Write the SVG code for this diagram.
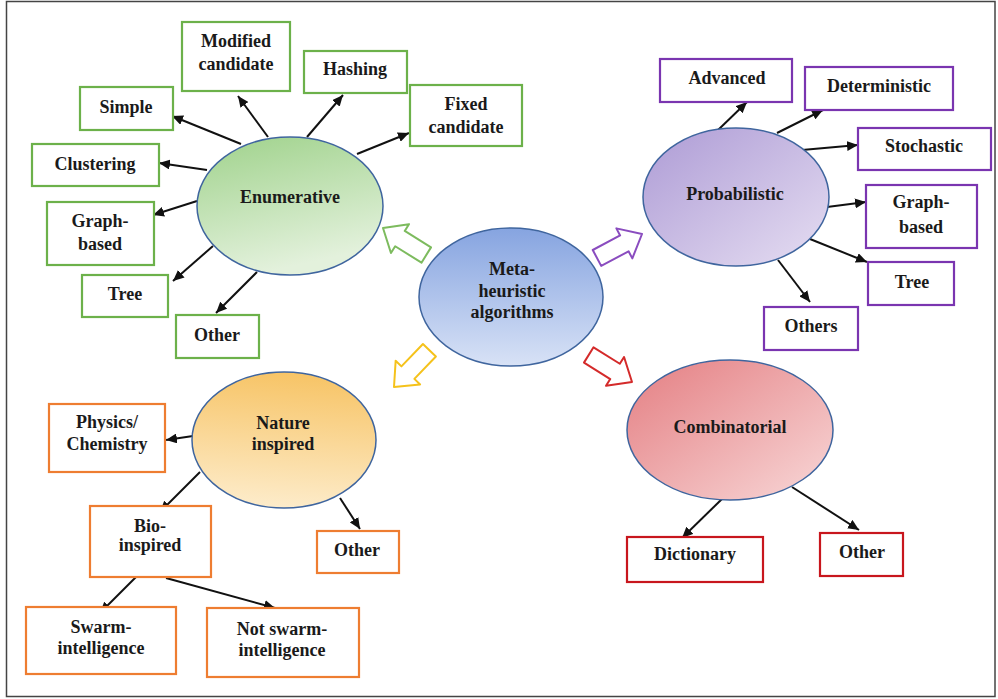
<svg xmlns="http://www.w3.org/2000/svg" width="998" height="699" viewBox="0 0 998 699">
  <style>
    text { font-family: "Liberation Serif", "Times New Roman", serif; font-weight: bold; font-size: 18px; fill: #1a1a1a; text-anchor: middle; }
    .hub { stroke: #3f659e; stroke-width: 1.5; }
    .box { fill: #fff; stroke-width: 2.2; }
    .g { stroke: #6cb14a; }
    .p { stroke: #7a35b0; }
    .o { stroke: #ee7d31; }
    .r { stroke: #c8161d; }
    .link { stroke: #111; stroke-width: 2; fill: none; marker-end: url(#tip); }
    .big { fill: #fff; stroke-width: 2; stroke-linejoin: round; }
  </style>
  <defs>
    <marker id="tip" markerUnits="userSpaceOnUse" markerWidth="12" markerHeight="10" refX="11" refY="5" orient="auto">
      <path d="M0,0 L11,5 L0,10 Z" fill="#111"/>
    </marker>
    <linearGradient id="gGreen" x1="0" y1="0" x2="0.3" y2="1">
      <stop offset="0" stop-color="#9fd28b"/>
      <stop offset="1" stop-color="#e3f1dc"/>
    </linearGradient>
    <linearGradient id="gBlue" x1="0" y1="0" x2="0" y2="1">
      <stop offset="0" stop-color="#86a4e0"/>
      <stop offset="1" stop-color="#d8e2f6"/>
    </linearGradient>
    <linearGradient id="gPurple" x1="0" y1="0" x2="1" y2="1">
      <stop offset="0" stop-color="#ad9bd5"/>
      <stop offset="1" stop-color="#e6def2"/>
    </linearGradient>
    <linearGradient id="gYellow" x1="0.5" y1="0" x2="0.4" y2="1">
      <stop offset="0" stop-color="#f7c466"/>
      <stop offset="1" stop-color="#fdeccb"/>
    </linearGradient>
    <linearGradient id="gRed" x1="0" y1="0" x2="1" y2="1">
      <stop offset="0" stop-color="#e47e82"/>
      <stop offset="1" stop-color="#f8d8d8"/>
    </linearGradient>
    <!-- hollow block arrow, tip at origin pointing along +x -->
    <path id="blockArrow" d="M0,0 L-20,-17 L-20,-9 L-51,-9 L-51,9 L-20,9 L-20,17 Z"/>
  </defs>

  <rect x="6.5" y="1.5" width="988.5" height="695" fill="#fff" stroke="#444" stroke-width="1.5"/>

  <!-- connectors -->
  <g id="connectors">
    <!-- Enumerative -->
    <line class="link" x1="241" y1="144" x2="172" y2="116"/>
    <line class="link" x1="268" y1="137" x2="238" y2="96"/>
    <line class="link" x1="307" y1="137" x2="343" y2="95"/>
    <line class="link" x1="357" y1="154" x2="409" y2="133"/>
    <line class="link" x1="207" y1="170" x2="159" y2="163"/>
    <line class="link" x1="197" y1="201" x2="153" y2="215"/>
    <line class="link" x1="213" y1="246" x2="173" y2="281"/>
    <line class="link" x1="257" y1="272" x2="216" y2="313"/>
    <!-- Probabilistic -->
    <line class="link" x1="717" y1="131" x2="747" y2="102"/>
    <line class="link" x1="777" y1="133" x2="823" y2="110"/>
    <line class="link" x1="802" y1="150" x2="858" y2="145"/>
    <line class="link" x1="827" y1="207" x2="866" y2="202"/>
    <line class="link" x1="810" y1="239" x2="867" y2="262"/>
    <line class="link" x1="778" y1="260" x2="810" y2="302"/>
    <!-- Nature inspired -->
    <line class="link" x1="193" y1="436" x2="166" y2="440"/>
    <line class="link" x1="200" y1="472" x2="160" y2="512"/>
    <line class="link" x1="340" y1="498" x2="360" y2="529"/>
    <line class="link" x1="138" y1="575" x2="100" y2="613"/>
    <line class="link" x1="166" y1="578" x2="275" y2="608"/>
    <!-- Combinatorial -->
    <line class="link" x1="723" y1="498" x2="682" y2="538"/>
    <line class="link" x1="792" y1="487" x2="859" y2="530"/>
    <!-- hollow arrows from the central node -->
    <use href="#blockArrow" class="big" stroke="#7dbb5e" transform="translate(383,228) rotate(212)"/>
    <use href="#blockArrow" class="big" stroke="#8a4cbf" transform="translate(642,234) rotate(-28)"/>
    <use href="#blockArrow" class="big" stroke="#f5c21b" transform="translate(394,387) rotate(134)"/>
    <use href="#blockArrow" class="big" stroke="#d42a2a" transform="translate(632,382) rotate(32)"/>
  </g>

  <!-- central node -->
  <g id="meta">
    <ellipse class="hub" cx="511" cy="297" rx="92" ry="69" fill="url(#gBlue)"/>
    <text x="512" y="275">Meta-</text>
    <text x="512" y="297">heuristic</text>
    <text x="512" y="318">algorithms</text>
  </g>

  <!-- Enumerative branch -->
  <g id="enumerative">
    <ellipse class="hub" cx="290" cy="206" rx="93" ry="69" fill="url(#gGreen)"/>
    <text x="290" y="203">Enumerative</text>
  </g>
  <g id="enum-modified"><rect class="box g" x="182" y="22" width="108" height="69"/><text x="236" y="47">Modified</text><text x="236" y="70">candidate</text></g>
  <g id="enum-hashing"><rect class="box g" x="304" y="51" width="103" height="42"/><text x="355" y="75">Hashing</text></g>
  <g id="enum-fixed"><rect class="box g" x="410" y="85" width="112" height="61"/><text x="466" y="110">Fixed</text><text x="466" y="133">candidate</text></g>
  <g id="enum-simple"><rect class="box g" x="80" y="87" width="93" height="43"/><text x="126" y="113">Simple</text></g>
  <g id="enum-clustering"><rect class="box g" x="32" y="144" width="127" height="42"/><text x="95" y="170">Clustering</text></g>
  <g id="enum-graph"><rect class="box g" x="47" y="202" width="107" height="63"/><text x="100" y="227">Graph-</text><text x="100" y="250">based</text></g>
  <g id="enum-tree"><rect class="box g" x="82" y="275" width="86" height="42"/><text x="125" y="300">Tree</text></g>
  <g id="enum-other"><rect class="box g" x="176" y="315" width="83" height="43"/><text x="217" y="341">Other</text></g>

  <!-- Probabilistic branch -->
  <g id="probabilistic">
    <ellipse class="hub" cx="736" cy="197" rx="93" ry="69" fill="url(#gPurple)"/>
    <text x="735" y="200">Probabilistic</text>
  </g>
  <g id="prob-advanced"><rect class="box p" x="660" y="59" width="132" height="43"/><text x="727" y="84">Advanced</text></g>
  <g id="prob-deterministic"><rect class="box p" x="805" y="67" width="148" height="43"/><text x="879" y="92">Deterministic</text></g>
  <g id="prob-stochastic"><rect class="box p" x="858" y="128" width="133" height="42"/><text x="924" y="152">Stochastic</text></g>
  <g id="prob-graph"><rect class="box p" x="866" y="185" width="111" height="63"/><text x="921" y="208">Graph-</text><text x="921" y="233">based</text></g>
  <g id="prob-tree"><rect class="box p" x="868" y="262" width="86" height="43"/><text x="912" y="288">Tree</text></g>
  <g id="prob-others"><rect class="box p" x="764" y="307" width="94" height="43"/><text x="811" y="332">Others</text></g>

  <!-- Nature inspired branch -->
  <g id="nature">
    <ellipse class="hub" cx="284" cy="440" rx="92" ry="68" fill="url(#gYellow)"/>
    <text x="283" y="429">Nature</text>
    <text x="283" y="450">inspired</text>
  </g>
  <g id="nat-physics"><rect class="box o" x="49" y="404" width="116" height="68"/><text x="107" y="428">Physics/</text><text x="107" y="450">Chemistry</text></g>
  <g id="nat-bio"><rect class="box o" x="90" y="506" width="121" height="71"/><text x="150" y="532">Bio-</text><text x="150" y="551">inspired</text></g>
  <g id="nat-other"><rect class="box o" x="317" y="531" width="82" height="42"/><text x="357" y="556">Other</text></g>
  <g id="nat-swarm"><rect class="box o" x="26" y="607" width="150" height="67"/><text x="101" y="633">Swarm-</text><text x="101" y="654">intelligence</text></g>
  <g id="nat-notswarm"><rect class="box o" x="207" y="608" width="152" height="69"/><text x="282" y="635">Not swarm-</text><text x="282" y="656">intelligence</text></g>

  <!-- Combinatorial branch -->
  <g id="combinatorial">
    <ellipse class="hub" cx="730" cy="430" rx="103" ry="70" fill="url(#gRed)"/>
    <text x="730" y="433">Combinatorial</text>
  </g>
  <g id="comb-dictionary"><rect class="box r" x="627" y="537" width="136" height="45"/><text x="695" y="560">Dictionary</text></g>
  <g id="comb-other"><rect class="box r" x="820" y="533" width="83" height="43"/><text x="862" y="558">Other</text></g>
</svg>
